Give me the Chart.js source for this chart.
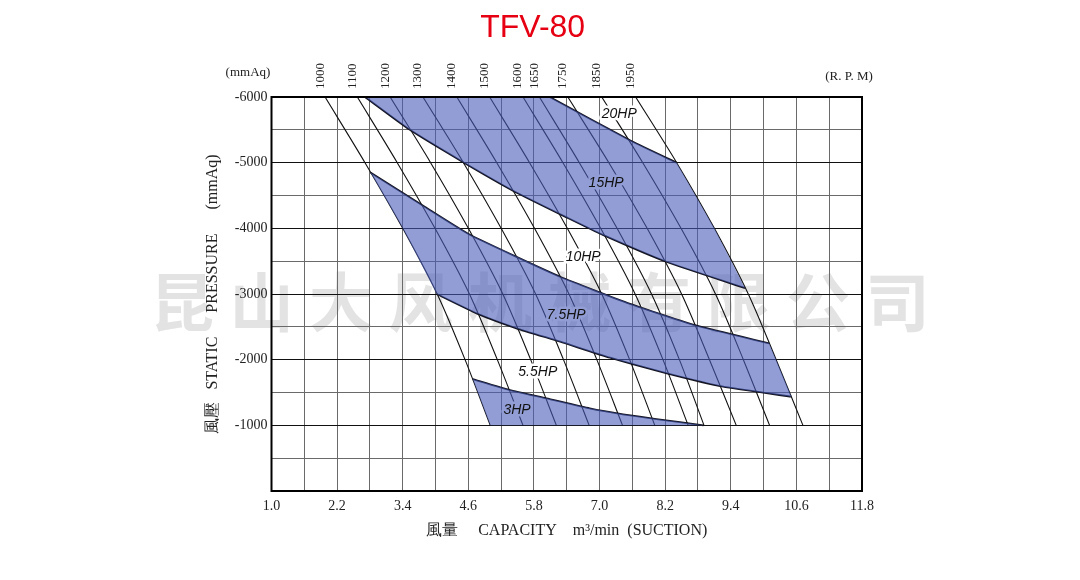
<!DOCTYPE html>
<html>
<head>
<meta charset="utf-8">
<script src="https://cdn.jsdelivr.net/npm/chart.js@4.4.1/dist/chart.umd.min.js"></script>
<style>
  html, body { margin: 0; padding: 0; background: #fff; }
</style>
</head>
<body>
<canvas id="chart" width="1080" height="580"></canvas>
<script>
// static pressure (mmAq) at which every rpm line was read
const pressureLevels = [-6000, -5000, -4000, -3000, -2000, -1000];

// capacity (m3/min) of each rpm line at those pressures
const rpmNames = ['1000', '1100', '1200', '1300', '1400', '1500', '1600', '1650', '1750', '1850', '1950'];
const rpm1000 = [1.98, 2.71, 3.40, 4.03, 4.54, 5.00];
const rpm1100 = [2.57, 3.30, 3.99, 4.62, 5.13, 5.60];
const rpm1200 = [3.17, 3.91, 4.60, 5.23, 5.74, 6.21];
const rpm1300 = [3.77, 4.51, 5.20, 5.83, 6.34, 6.81];
const rpm1400 = [4.39, 5.12, 5.81, 6.44, 6.95, 7.42];
const rpm1500 = [4.99, 5.72, 6.41, 7.04, 7.55, 8.01];
const rpm1600 = [5.60, 6.33, 7.02, 7.65, 8.16, 8.62];
const rpm1650 = [5.90, 6.63, 7.32, 7.95, 8.46, 8.91];
const rpm1750 = [6.42, 7.17, 7.87, 8.50, 9.01, 9.50];
const rpm1850 = [7.04, 7.79, 8.49, 9.12, 9.63, 10.11];
const rpm1950 = [7.66, 8.41, 9.10, 9.72, 10.23, 10.72];
const rpmLines = [rpm1000, rpm1100, rpm1200, rpm1300, rpm1400, rpm1500, rpm1600, rpm1650, rpm1750, rpm1850, rpm1950];

// motor power limit curves
const hp20Cap  = [6.09, 7.59, 8.41];
const hp20Pres = [-6000, -5325, -5000];
const hp15Cap  = [2.71, 3.53, 4.52, 5.45, 6.42, 7.06, 8.23, 9.66];
const hp15Pres = [-6000, -5500, -5000, -4558, -4157, -3900, -3487, -3090];
const hp10Cap  = [2.81, 3.81, 4.63, 6.28, 7.56, 8.78, 10.10];
const hp10Pres = [-4850, -4325, -3903, -3263, -2850, -2517, -2249];
const hp75Cap  = [4.02, 4.75, 5.48, 6.28, 7.19, 8.23, 9.26, 10.51];
const hp75Pres = [-3000, -2706, -2478, -2274, -2030, -1792, -1588, -1436];
const hp55Cap  = [4.68, 5.36, 6.03, 6.82, 7.43, 8.04, 8.90];
const hp55Pres = [-1705, -1538, -1412, -1259, -1168, -1096, -1000];

const hpLabels   = ['20HP', '15HP', '10HP', '7.5HP', '5.5HP', '3HP'];
const hpLabelCap = [7.36, 7.12, 6.70, 6.39, 5.87, 5.49];
const hpLabelPres = [-5741, -4690, -3563, -2680, -1812, -1233];

const BAND = 'rgba(72, 92, 183, 0.6)';
const BAND_SOLID = 'rgb(145, 157, 212)';
const SERIF = '"Liberation Serif", "Times New Roman", serif';

const zip = (xs, ys) => xs.map((x, i) => ({ x, y: ys[i] }));
const rpmPts = line => zip(line, pressureLevels);
const between = (line, a, b) => rpmPts(line).filter(p => p.y > Math.min(a, b) && p.y < Math.max(a, b));

// shaded areas
const topBand = [
  ...zip(hp20Cap, hp20Pres),
  ...between(rpm1950, -5000, hp15Pres[hp15Pres.length - 1]),
  ...zip(hp15Cap, hp15Pres).reverse()
];
const midBand = [
  ...zip(hp10Cap, hp10Pres),
  ...between(rpm1950, hp10Pres[hp10Pres.length - 1], hp75Pres[hp75Pres.length - 1]),
  ...zip(hp75Cap, hp75Pres).reverse(),
  ...between(rpm1000, hp75Pres[0], hp10Pres[0]).reverse()
];
const lowBand = [
  ...zip(hp55Cap, hp55Pres),
  rpmPts(rpm1000)[pressureLevels.length - 1]
];

const datasets = [];
[topBand, midBand, lowBand].forEach(b => datasets.push({
  data: b, showLine: true, pointRadius: 0, borderWidth: 0,
  backgroundColor: BAND, fill: 'shape', tension: 0
}));
rpmLines.forEach(l => datasets.push({
  data: rpmPts(l), showLine: true, pointRadius: 0, borderWidth: 1.1,
  borderColor: '#111', fill: false, tension: 0.3
}));
[[hp20Cap, hp20Pres], [hp15Cap, hp15Pres], [hp10Cap, hp10Pres], [hp75Cap, hp75Pres], [hp55Cap, hp55Pres]]
  .forEach(([c, p]) => datasets.push({
    data: zip(c, p), showLine: true, pointRadius: 0, borderWidth: 1.8,
    borderColor: '#141420', fill: false, tension: 0.15
  }));

const decor = {
  id: 'decor',
  beforeDraw(chart) {
    const ctx = chart.ctx;
    ctx.save();
    ctx.fillStyle = '#e3e3e3';
    ctx.font = 'bold 64px "Noto Sans CJK SC", sans-serif';
    ctx.textAlign = 'center';
    ctx.textBaseline = 'middle';
    Array.from('昆山大风机械有限公司').forEach((ch, i) => ctx.fillText(ch, 182 + i * 79.5, 302));
    ctx.restore();
  },
  afterDatasetsDraw(chart) {
    const { ctx, scales: { x, y } } = chart;
    const halo = ['#fff', BAND_SOLID, '#fff', BAND_SOLID, '#fff', BAND_SOLID];
    ctx.save();
    ctx.font = 'italic 14px "Liberation Sans", Arial, sans-serif';
    ctx.textAlign = 'center';
    ctx.textBaseline = 'middle';
    ctx.lineJoin = 'round';
    hpLabels.forEach((t, i) => {
      const px = x.getPixelForValue(hpLabelCap[i]);
      const py = y.getPixelForValue(hpLabelPres[i]);
      ctx.lineWidth = 5;
      ctx.strokeStyle = halo[i];
      ctx.strokeText(t, px, py);
      ctx.fillStyle = '#111';
      ctx.fillText(t, px, py);
    });
    ctx.restore();
  },
  afterDraw(chart) {
    const { ctx, chartArea: a, scales: { x } } = chart;
    ctx.save();
    ctx.strokeStyle = '#000';
    ctx.lineWidth = 2;
    ctx.strokeRect(a.left, a.top, a.right - a.left, a.bottom - a.top);

    ctx.fillStyle = '#222';
    ctx.font = '13px ' + SERIF;
    ctx.textBaseline = 'middle';
    ctx.textAlign = 'center';
    ctx.fillText('(mmAq)', 248, 73);
    ctx.fillText('(R. P. M)', 849, 77);

    rpmNames.forEach((n, i) => {
      const px = x.getPixelForValue(rpmLines[i][0]) - 5;
      ctx.save();
      ctx.translate(px, a.top - 8);
      ctx.rotate(-Math.PI / 2);
      ctx.textAlign = 'left';
      ctx.fillText(n, 0, 0);
      ctx.restore();
    });
    ctx.restore();
  }
};

new Chart(document.getElementById('chart'), {
  type: 'scatter',
  data: { datasets },
  plugins: [decor],
  options: {
    responsive: false,
    animation: false,
    layout: { padding: { left: 203.4, right: 218, top: 0, bottom: 39.4 } },
    plugins: {
      legend: { display: false },
      tooltip: { enabled: false },
      title: {
        display: true,
        text: 'TFV-80',
        color: '#e60012',
        font: { family: '"Liberation Sans", Arial, sans-serif', size: 32, weight: 'normal' },
        padding: { top: 9, bottom: 49.6 }
      }
    },
    scales: {
      x: {
        type: 'linear',
        min: 1.0,
        max: 11.8,
        afterFit: s => { s.height = 49.6; },
        border: { display: false },
        grid: { color: '#6a6a6a', lineWidth: 1, drawTicks: false },
        ticks: {
          stepSize: 0.6,
          autoSkip: false,
          maxRotation: 0,
          padding: 7,
          color: '#222',
          font: { family: SERIF, size: 14 },
          callback: (v, i) => (i % 2 === 0 ? v.toFixed(1) : '')
        },
        title: {
          display: true,
          text: '風量     CAPACITY    m³/min  (SUCTION)',
          color: '#222',
          font: { family: SERIF, size: 16 },
          padding: { top: 0, bottom: 0 }
        }
      },
      y: {
        type: 'linear',
        min: -6000,
        max: 0,
        reverse: true,
        afterFit: s => { s.width = 68.1; },
        border: { display: false },
        grid: {
          drawTicks: false,
          color: c => (c.tick && c.tick.value % 1000 === 0 ? '#111' : '#6a6a6a'),
          lineWidth: 1
        },
        ticks: {
          stepSize: 500,
          autoSkip: false,
          padding: 4,
          color: '#222',
          font: { family: SERIF, size: 14 },
          callback: v => (v % 1000 === 0 && v !== 0 ? String(v) : '')
        },
        title: {
          display: true,
          text: '風壓   STATIC      PRESSURE      (mmAq)',
          color: '#222',
          font: { family: SERIF, size: 16 },
          padding: { top: 0, bottom: 0 }
        }
      }
    }
  }
});
</script>
</body>
</html>
